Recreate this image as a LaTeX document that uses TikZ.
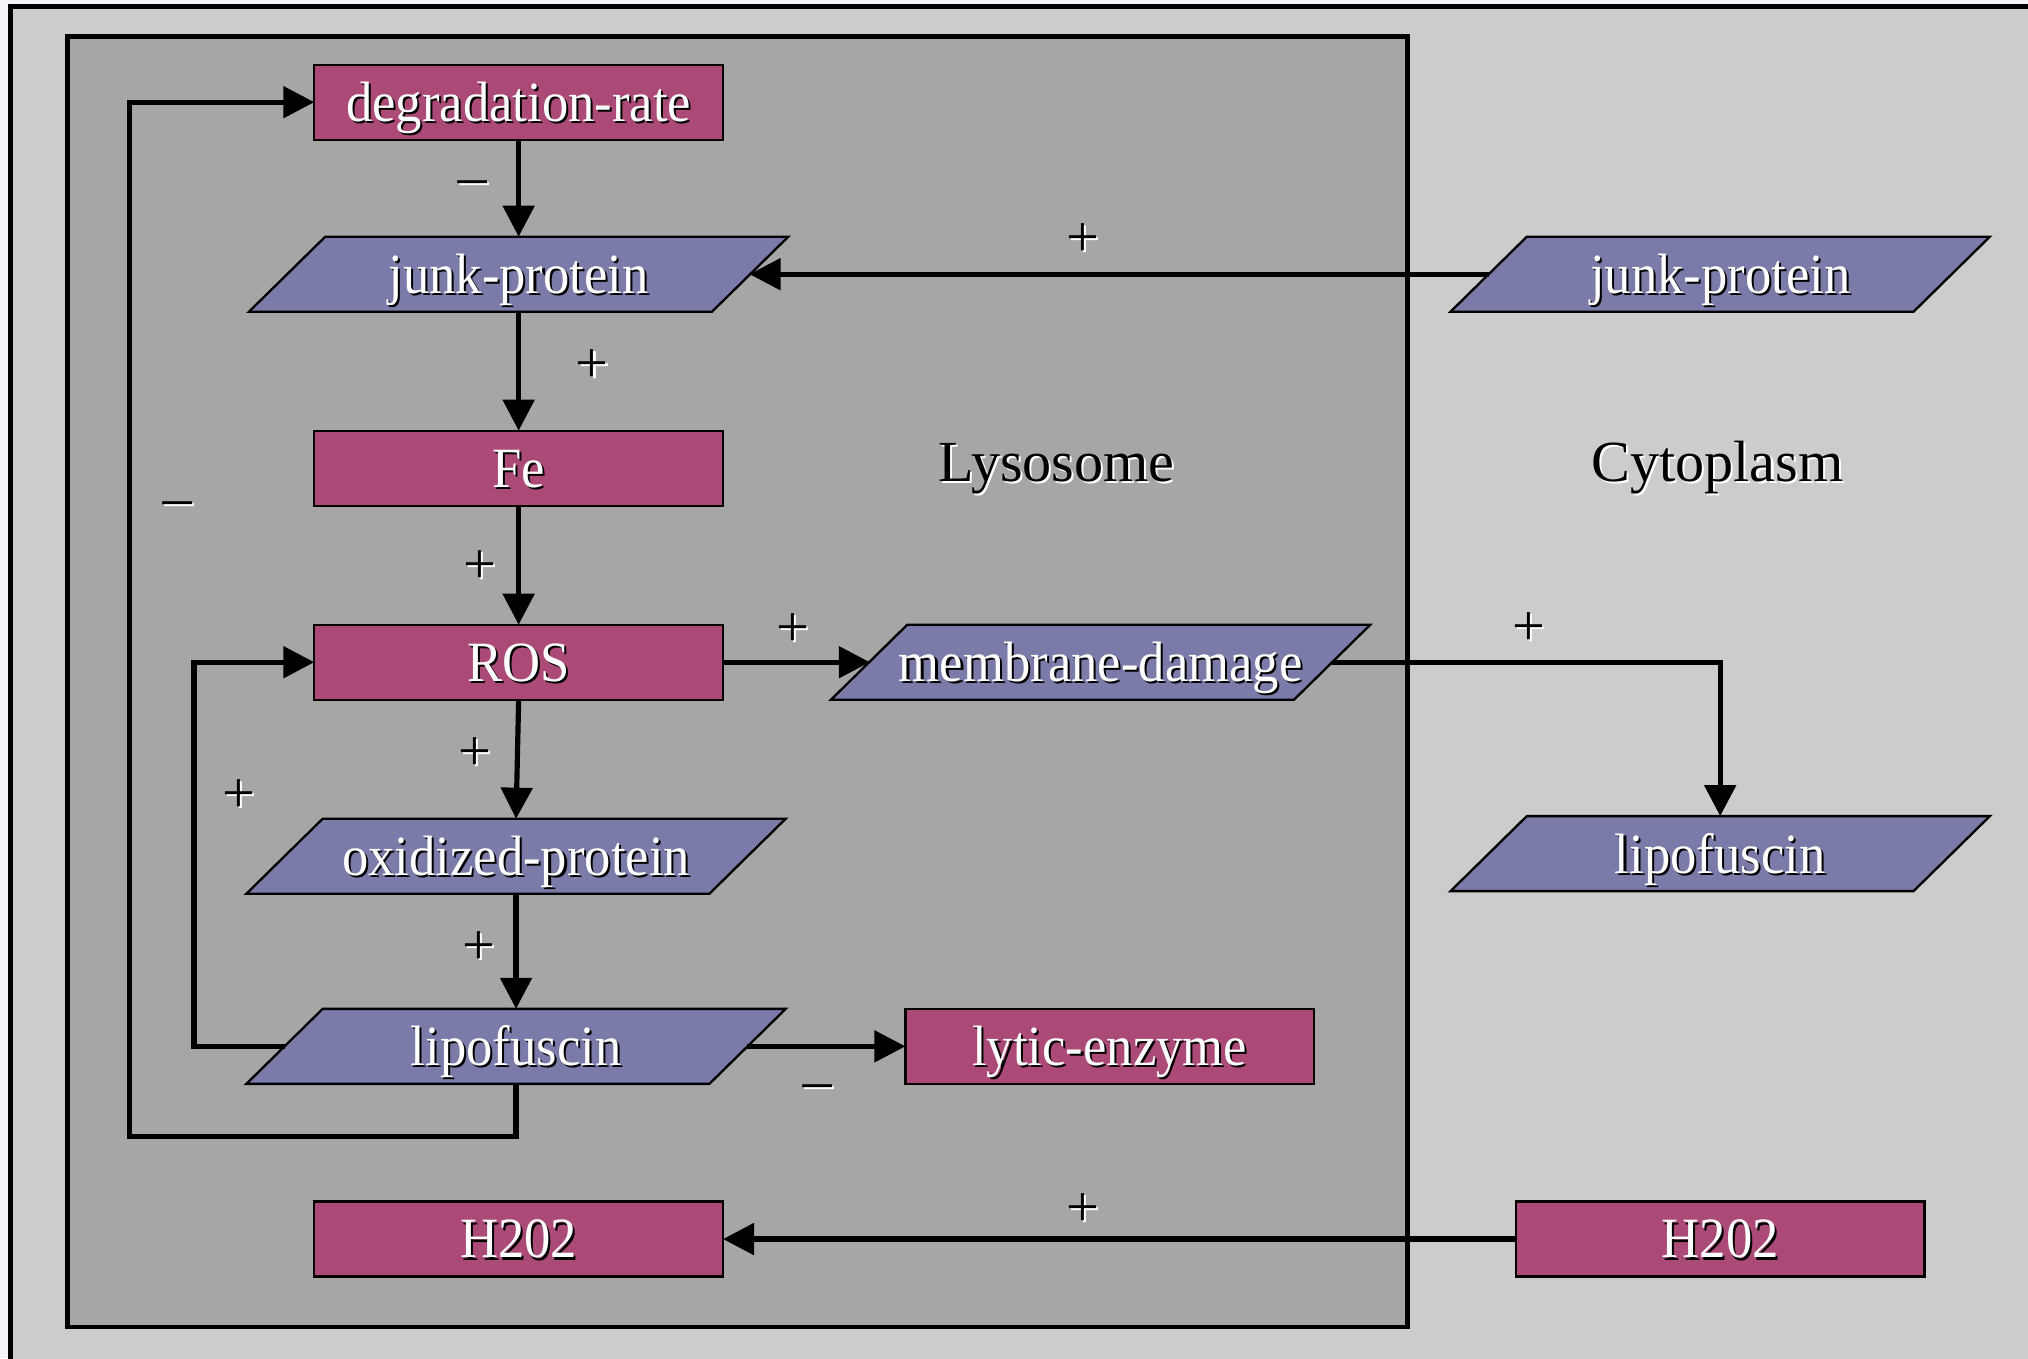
\documentclass[tikz,border=0pt]{standalone}
\usepackage{fontspec}
\setmainfont{Liberation Serif}
\newfontfamily\nodefnt[FakeStretch=0.925]{Liberation Serif}
\usetikzlibrary{calc,arrows.meta}
\definecolor{rosefill}{HTML}{AB4A76}
\definecolor{parafill}{HTML}{7A7BA9}
\definecolor{lysofill}{HTML}{A6A6A6}
\definecolor{cytofill}{HTML}{CCCCCC}
\definecolor{marginfill}{HTML}{F3F3FA}
\newcommand{\shw}[1]{\leavevmode\rlap{\kern0.8pt\raisebox{-0.8pt}{\color{black}#1}}{\color{white}#1}}
\newcommand{\shb}[1]{\leavevmode\rlap{\kern0.8pt\raisebox{-0.8pt}{\color{white}#1}}{\color{black}#1}}
\newcommand{\mns}{\scalebox{1.1}[1]{−}}
\tikzset{
  rectnode/.style={rectangle, draw=black, line width=0.9pt, fill=rosefill,
    minimum width=158pt, minimum height=29pt, inner sep=0pt, outer sep=0pt,
    font=\nodefnt\fontsize{22}{26}\selectfont, text height=14.6pt, text depth=0pt},
  parabox/.style={rectangle, minimum width=178.5pt, minimum height=29pt, inner sep=0pt, outer sep=0pt,
    font=\nodefnt\fontsize{22}{26}\selectfont, text height=15pt, text depth=0pt},
  parashape/.style={fill=parafill, draw=black, line width=0.9pt, line join=miter},
  signlabel/.style={anchor=base, inner sep=0pt, font=\fontsize{22.5}{26}\selectfont},
  regionlabel/.style={anchor=base, inner sep=0pt, font=\fontsize{22.5}{26}\selectfont},
  conn/.style={line width=2pt, -{Triangle[length=12pt,width=12pt]}},
  frame/.style={draw=black, line width=1.8pt}
}
\newcommand{\paranode}[3]{%
  \path[parashape] ($(#2)+(-208.5,29)$) -- ($(#2)+(149.5,29)$) -- ($(#2)+(208.5,-29)$) -- ($(#2)+(-149.5,-29)$) -- cycle;
  \node[parabox] (#1) at (#2) {\shw{#3}};}
\begin{document}
\begin{tikzpicture}[x=0.5pt,y=-0.5pt]
\useasboundingbox (0,0) rectangle (1568,1050);
\clip (0,0) rectangle (1568,1050);
\fill[marginfill] (0,0) rectangle (1568,1050);
\draw[frame, fill=cytofill] (8,5) rectangle (1600,1080);
\draw[frame, fill=lysofill] (52,28) rectangle (1088,1026);

\node[regionlabel] (lysolbl) at (817,372) {\shb{Lysosome}};
\node[regionlabel] (cytolbl) at (1328,372) {\shb{Cytoplasm}};

\node[rectnode] (deg) at (401,79) {\shw{degradation-rate}};
\paranode{jl}{401,212}{junk-protein}
\node[rectnode] (fe) at (401,362) {\shw{Fe}};
\node[rectnode] (ros) at (401,512) {\shw{ROS}};
\paranode{ox}{399,662}{oxidized-protein}
\paranode{lipo}{399,809}{lipofuscin}
\node[rectnode] (lytic) at (858,809) {\shw{lytic-enzyme}};
\paranode{md}{851,512}{membrane-damage}
\node[rectnode] (hl) at (401,958) {\shw{H202}};
\paranode{jc}{1330,212}{junk-protein}
\paranode{lc}{1330,660}{lipofuscin}
\node[rectnode] (hc) at (1330,958) {\shw{H202}};

\coordinate (loopA) at (150,0);
\coordinate (loopB) at (100,879);

\draw[conn] (deg.south) -- (jl.north);
\draw[conn] (jl.south) -- (fe.north);
\draw[conn] (fe.south) -- (ros.north);
\draw[conn] (ros.south) -- (ox.north);
\draw[conn] (ox.south) -- (lipo.north);
\draw[conn] (ros.east) -- (md.west);
\draw[conn] (md.east) -| (lc.north);
\draw[conn] (jc.west) -- (jl.east);
\draw[conn] (hc.west) -- (hl.east);
\draw[conn] (lipo.east) -- (lytic.west);
\draw[conn] (lipo.west) -- (lipo.west -| loopA) -- (ros.west -| loopA) -- (ros.west);
\draw[conn] (lipo.south) -- (lipo.south |- loopB) -- (loopB) -- (loopB |- deg.west) -- (deg.west);

\node[signlabel] (s1) at (365,156) {\shb{\mns}};
\node[signlabel] (s2) at (837,198) {\shb{+}};
\node[signlabel] (s3) at (458,296) {\shb{+}};
\node[signlabel] (s4) at (137,404) {\shb{\mns}};
\node[signlabel] (s5) at (371,451) {\shb{+}};
\node[signlabel] (s6) at (613,500) {\shb{+}};
\node[signlabel] (s7) at (1182,499) {\shb{+}};
\node[signlabel] (s8) at (367,596) {\shb{+}};
\node[signlabel] (s9) at (185,628) {\shb{+}};
\node[signlabel] (s10) at (370,746) {\shb{+}};
\node[signlabel] (s11) at (632,855) {\shb{\mns}};
\node[signlabel] (s12) at (837,948) {\shb{+}};
\end{tikzpicture}
\end{document}
